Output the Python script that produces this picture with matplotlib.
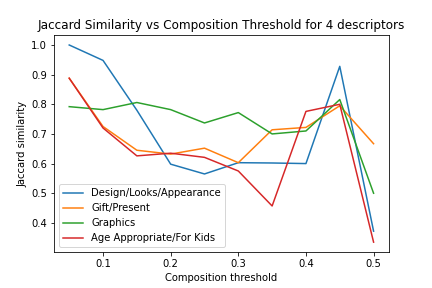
import matplotlib
matplotlib.use('Agg')
from matplotlib import pyplot as plt

thresholds = [0.05, 0.1, 0.15, 0.2, 0.25, 0.3, 0.35, 0.4, 0.45, 0.5]
design = [1.0, 0.948, 0.78, 0.598, 0.565, 0.603, 0.602, 0.600, 0.928, 0.372]
gift = [0.888, 0.725, 0.645, 0.632, 0.652, 0.603, 0.714, 0.722, 0.795, 0.667]
graphics = [0.792, 0.782, 0.806, 0.782, 0.737, 0.772, 0.700, 0.710, 0.816, 0.500]
age = [0.888, 0.720, 0.626, 0.635, 0.621, 0.575, 0.457, 0.776, 0.800, 0.335]

fig = plt.figure(figsize=(6, 4), dpi=72)
ax = plt.subplot()
ax.plot(thresholds, design, label='Design/Looks/Appearance')
ax.plot(thresholds, gift, label='Gift/Present')
ax.plot(thresholds, graphics, label='Graphics')
ax.plot(thresholds, age, label='Age Appropriate/For Kids')
ax.legend(loc='lower left')

plt.title("Jaccard Similarity vs Composition Threshold for 4 descriptors")
plt.xlabel('Composition threshold')
plt.ylabel('Jaccard similarity')
plt.subplots_adjust(left=0.125, right=0.9, top=0.878, bottom=0.125)
plt.savefig('out.png')
